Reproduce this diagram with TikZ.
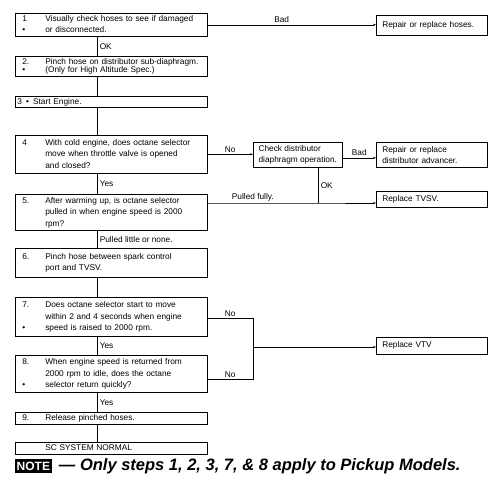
\documentclass[tikz,border=0pt]{standalone}
\usepackage{fontspec}
\setmainfont{Liberation Sans}
\usepackage{tikz}
\usetikzlibrary{positioning,arrows.meta}

\newcommand{\stepcell}[1]{\noindent\begin{tabular}{@{}p{23pt}@{}l@{}}#1\end{tabular}}

\tikzset{
 stepbox/.style={draw, line width=0.6pt, rectangle, inner ysep=0pt, inner xsep=7pt,
   anchor=north west, minimum width=192pt, text width=178pt, align=left,
   font=\fontsize{8.3}{11.5}\selectfont},
 endbox/.style={draw, line width=0.6pt, rectangle, inner ysep=0pt, inner xsep=6pt,
   anchor=north west, minimum width=111pt, text width=99pt, align=left,
   font=\fontsize{8.3}{11.5}\selectfont},
 lbl/.style={font=\fontsize{8.3}{10}\selectfont, inner sep=1.5pt},
 link/.style={line width=0.5pt},
 tolink/.style={link, -{Stealth[length=3pt,width=2.2pt]}}
}

\begin{document}
\begin{tikzpicture}[x=1pt,y=-1pt]
 \useasboundingbox (0,0) rectangle (497,502);
 % main column
 \node[stepbox, minimum height=23pt] (b1) at (15,13)
  {\stepcell{1 & Visually check hoses to see if damaged\\ \textbullet & or disconnected.}};
 \node[stepbox, minimum height=18pt] (b2) at (15,56)
  {\stepcell{2. & Pinch hose on distributor sub-diaphragm.\\[-3.2pt] \textbullet & (Only for High Altitude Spec.)}};
 \node[stepbox, minimum height=10.5pt, inner xsep=2pt, text width=188pt] (b3) at (15,96.5)
  {3\enspace\textbullet\enspace Start Engine.};
 \node[stepbox, minimum height=38pt] (b4) at (15,135)
  {\stepcell{4 & With cold engine, does octane selector\\ & move when throttle valve is opened\\ & and closed?}};
 \node[stepbox, minimum height=36pt] (b5) at (15,194)
  {\stepcell{5. & After warming up, is octane selector\\ & pulled in when engine speed is 2000\\ & rpm?}};
 \node[stepbox, minimum height=29pt] (b6) at (15,248)
  {\stepcell{6. & Pinch hose between spark control\\ & port and TVSV.}};
 \node[stepbox, minimum height=39pt] (b7) at (15,297)
  {\stepcell{7. & Does octane selector start to move\\ & within 2 and 4 seconds when engine\\ \textbullet & speed is raised to 2000 rpm.}};
 \node[stepbox, minimum height=37pt] (b8) at (15,355)
  {\stepcell{8. & When engine speed is returned from\\ & 2000 rpm to idle, does the octane\\ \textbullet & selector return quickly?}};
 \node[stepbox, minimum height=12pt] (b9) at (15,412)
  {\stepcell{9. & Release pinched hoses.}};
 \node[stepbox, minimum height=11pt] (sc) at (15,442)
  {\stepcell{ & SC SYSTEM NORMAL}};
 % side boxes
 \node[endbox, minimum height=20pt] (rhose) at (376,15) {Repair or replace hoses.};
 \node[draw, line width=0.6pt, anchor=north west, inner ysep=0pt, inner xsep=5pt,
   minimum width=89pt, minimum height=25pt, align=left,
   font=\fontsize{8.3}{11.5}\selectfont] (chk) at (253,142)
  {Check distributor\\ diaphragm operation.};
 \node[endbox, minimum height=25pt] (radv) at (376,142) {Repair or replace\\ distributor advancer.};
 \node[endbox, minimum height=16pt] (tvsv) at (376,191) {Replace TVSV.};
 \node[endbox, minimum height=17pt] (vtv) at (376,337) {Replace VTV};
 % junctions
 \coordinate (v) at (97,0);
 \coordinate (jok) at (318,203);
 \coordinate (n7) at (253,318);
 \coordinate (n8) at (253,379);
 \coordinate (jv) at (253,347);
 % main flow
 \draw[link] (b1.south -| v) -- node[lbl, right=1pt] {OK} (b2.north -| v);
 \draw[link] (b2.south -| v) -- (b3.north -| v);
 \draw[link] (b3.south -| v) -- (b4.north -| v);
 \draw[link] (b4.south -| v) -- node[lbl, right=1pt] {Yes} (b5.north -| v);
 \draw[link] (b5.south -| v) -- node[lbl, right=1pt] {Pulled little or none.} (b6.north -| v);
 \draw[link] (b6.south -| v) -- (b7.north -| v);
 \draw[link] (b7.south -| v) -- node[lbl, right=1pt] {Yes} (b8.north -| v);
 \draw[link] (b8.south -| v) -- node[lbl, right=1pt] {Yes} (b9.north -| v);
 \draw[link] (b9.south -| v) -- (sc.north -| v);
 % branches
 \draw[tolink] (b1.east) -- node[lbl, above, pos=0.44] {Bad} (b1.east -| rhose.west);
 \draw[tolink] (b4.east) -- node[lbl, above] {No} (b4.east -| chk.west);
 \draw[tolink] ([yshift=-3pt]chk.east) -- node[lbl, above] {Bad} ([yshift=-3pt]chk.east -| radv.west);
 \draw[link] (chk.south -| jok) -- node[lbl, right=1pt] {OK} (jok);
 \draw[tolink] (b5.east |- jok) -- node[lbl, above, pos=0.41] {Pulled fully.} (jok) -- (jok -| tvsv.west);
 \draw[link] (b7.east |- n7) -- node[lbl, above] {No} (n7) -- (n8) -- node[lbl, above] {No} (b8.east |- n8);
 \draw[tolink] (jv) -- (jv -| vtv.west);
 % note
 \node[fill=black, text=white, font=\fontsize{12}{12}\selectfont\bfseries, inner xsep=1.5pt,
   inner ysep=0pt, minimum height=14pt, minimum width=36pt, anchor=west] (note) at (15,466) {NOTE};
 \node[right=7pt of note, inner sep=0pt, font=\fontsize{16.5}{18}\selectfont\bfseries\itshape]
  (notetext) {— Only steps 1, 2, 3, 7, \& 8 apply to Pickup Models.};
\end{tikzpicture}
\end{document}
